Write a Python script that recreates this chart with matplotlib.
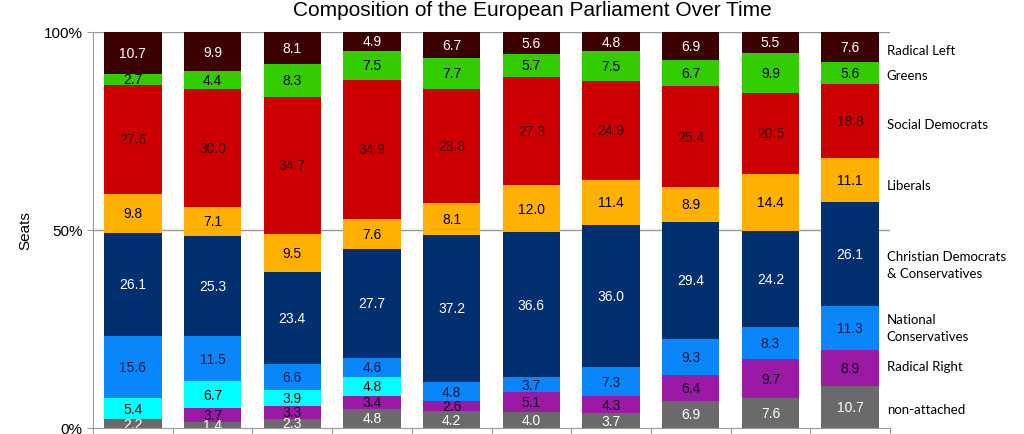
import matplotlib
matplotlib.use("Agg")
import matplotlib.pyplot as plt
import numpy as np

plt.rcParams['font.family'] = ['Liberation Sans', 'DejaVu Sans']

# Bottom-to-top stacking order
groups = ["non-attached", "Radical Right", "Eurosceptics", "National\nConservatives",
          "Christian Democrats\n& Conservatives", "Liberals", "Social Democrats",
          "Greens", "Radical Left"]
non_attached = [2.2, 1.4, 2.3, 4.8, 4.2, 4.0, 3.7, 6.9, 7.6, 10.7]
radical_right = [0, 3.7, 3.3, 3.4, 2.6, 5.1, 4.3, 6.4, 9.7, 8.9]
eurosceptics = [5.4, 6.7, 3.9, 4.8, 0, 0, 0, 0, 0, 0]
national_cons = [15.6, 11.5, 6.6, 4.6, 4.8, 3.7, 7.3, 9.3, 8.3, 11.3]
christian_dem = [26.1, 25.3, 23.4, 27.7, 37.2, 36.6, 36.0, 29.4, 24.2, 26.1]
liberals = [9.8, 7.1, 9.5, 7.6, 8.1, 12.0, 11.4, 8.9, 14.4, 11.1]
social_dem = [27.6, 30.0, 34.7, 34.9, 28.8, 27.3, 24.9, 25.4, 20.5, 18.8]
greens = [2.7, 4.4, 8.3, 7.5, 7.7, 5.7, 7.5, 6.7, 9.9, 5.6]
radical_left = [10.7, 9.9, 8.1, 4.9, 6.7, 5.6, 4.8, 6.9, 5.5, 7.6]

series = [non_attached, radical_right, eurosceptics, national_cons, christian_dem,
          liberals, social_dem, greens, radical_left]
colors = ["#6a6a6a", "#9a1aa6", "#00ffff", "#0a86fb", "#00306f",
          "#ffb000", "#cc0000", "#33cc00", "#3d0000"]
text_colors = ["white", "#1a0022", "black", "#001a40", "white",
               "black", "#3a0000", "black", "white"]
# right-hand label names (None = no label)
right_labels = ["non-attached", "Radical Right", None, "National\nConservatives",
                "Christian Democrats\n& Conservatives", "Liberals", "Social Democrats",
                "Greens", "Radical Left"]
right_label_y = [4.8, 15.7, None, 25.5, 41.2, 61.4, 76.8, 89.1, 95.5]

fig = plt.figure(figsize=(10.24, 4.35), dpi=100)
ax = fig.add_axes([93/1024, 1 - 429/435, (890 - 93)/1024, (429 - 33)/435])

n = len(non_attached)
x = np.arange(n)
bottom = np.zeros(n)
for vals, col, tcol in zip(series, colors, text_colors):
    vals = np.array(vals, dtype=float)
    ax.bar(x, vals, bottom=bottom, width=0.72, color=col, zorder=3, linewidth=0)
    for xi, v, b in zip(x, vals, bottom):
        if v > 0:
            ax.text(xi, b + v / 2, f"{v:.1f}", ha='center', va='center',
                    fontsize=10, color=tcol, zorder=4, clip_on=True)
    bottom += vals

ax.set_xlim(-0.5, n - 0.5)
ax.set_ylim(0, 100)
ax.set_yticks([0, 50, 100])
ax.set_yticklabels(["0%", "50%", "100%"], fontsize=11)
ax.set_ylabel("Seats", fontsize=11, labelpad=8)
ax.set_xticks(np.arange(-0.5, n, 1.0))
ax.set_xticklabels([])
ax.tick_params(axis='x', length=4, color='#999999', direction='out')
ax.tick_params(axis='y', length=4, color='#999999', direction='out')
for y in (50, 100):
    ax.axhline(y, color='#999999', linewidth=1, zorder=1)
for s in ['top', 'right']:
    ax.spines[s].set_visible(False)
for s in ['left', 'bottom']:
    ax.spines[s].set_color('#999999')
ax.spines['bottom'].set_zorder(5)

for lab, yy in zip(right_labels, right_label_y):
    if lab is None:
        continue
    ax.text(n - 0.5 - 0.04, yy, lab, ha='left', va='center', fontsize=9.5,
            family=['Lato', 'DejaVu Sans'], color='black', linespacing=1.5,
            clip_on=False)

fig.text(532/1024, 1 - 10/435, "Composition of the European Parliament Over Time",
         ha='center', va='center', fontsize=15)

fig.savefig("out.png", dpi=100)
